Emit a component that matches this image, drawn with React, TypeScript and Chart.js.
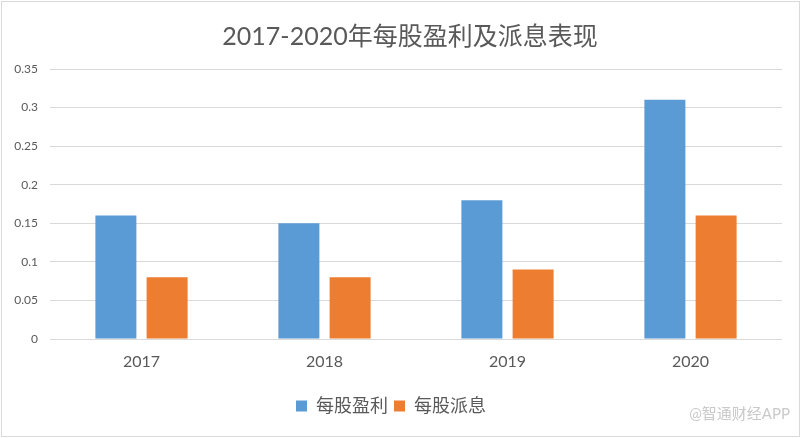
import React, { useEffect, useRef } from "react";
import { Chart, registerables } from "chart.js";

Chart.register(...registerables);

const titleText = "2017-2020年每股盈利及派息表现";
const categories = ["2017", "2018", "2019", "2020"];
const epsName = "每股盈利";
const epsValues = [0.16, 0.15, 0.18, 0.31];
const dpsName = "每股派息";
const dpsValues = [0.08, 0.08, 0.09, 0.16];
const yTicks = [0, 0.05, 0.1, 0.15, 0.2, 0.25, 0.3, 0.35];
const watermark = "@智通财经APP";

const FONT = "Lato, 'Noto Sans CJK SC', sans-serif";

const decorPlugin = {
  id: "decor",
  afterDraw(chart: any) {
    const { ctx, width, height } = chart;
    ctx.save();
    ctx.strokeStyle = "#d9d9d9";
    ctx.lineWidth = 1;
    ctx.strokeRect(1.5, 1.5, width - 3, height - 3);
    ctx.font = `25px ${FONT}`;
    ctx.fillStyle = "#595959";
    ctx.textAlign = "center";
    ctx.textBaseline = "middle";
    ctx.fillText(titleText, 410, 37);
    ctx.font = `15px ${FONT}`;
    ctx.fillStyle = "#c9c9c9";
    ctx.textAlign = "right";
    ctx.fillText(watermark, 790, 414);
    ctx.restore();
  },
};

export default function App() {
  const ref = useRef<HTMLCanvasElement | null>(null);
  useEffect(() => {
    if (!ref.current) return;
    const chart = new Chart(ref.current, {
      type: "bar",
      data: {
        labels: categories,
        datasets: [
          {
            label: epsName,
            data: epsValues,
            backgroundColor: "#5b9bd5",
            categoryPercentage: 0.56,
            barPercentage: 0.8,
          },
          {
            label: dpsName,
            data: dpsValues,
            backgroundColor: "#ed7d31",
            categoryPercentage: 0.56,
            barPercentage: 0.8,
          },
        ],
      },
      options: {
        animation: false,
        responsive: false,
        maintainAspectRatio: false,
        layout: { padding: { left: 0, right: 19, top: 69, bottom: 13 } },
        plugins: {
          title: { display: false },
          legend: {
            position: "bottom",
            labels: {
              color: "#595959",
              font: { family: FONT, size: 18 },
              boxWidth: 11,
              boxHeight: 11,
              padding: 6,
            },
          },
          tooltip: { enabled: false },
        },
        scales: {
          x: {
            grid: { display: false, drawTicks: false },
            border: { display: false },
            ticks: {
              color: "#595959",
              font: { family: FONT, size: 16 },
              padding: 13,
            },
            afterFit(scale: any) {
              scale.height = 52;
            },
          },
          y: {
            min: 0,
            max: 0.35,
            grid: { color: "#d9d9d9", drawTicks: false },
            border: { display: false },
            afterBuildTicks(scale: any) {
              scale.ticks = yTicks.map((v) => ({ value: v }));
            },
            ticks: {
              color: "#595959",
              font: { family: FONT, size: 12 },
              padding: 12,
              callback: (v: any) => String(Number(v)),
            },
            afterFit(scale: any) {
              scale.width = 50;
            },
          },
        },
      },
      plugins: [decorPlugin],
    });
    return () => chart.destroy();
  }, []);
  return (
    <div style={{ position: "absolute", left: 0, top: 0, width: 801, height: 438, background: "#fff" }}>
      <canvas ref={ref} width={801} height={438} style={{ width: 801, height: 438 }} />
    </div>
  );
}
